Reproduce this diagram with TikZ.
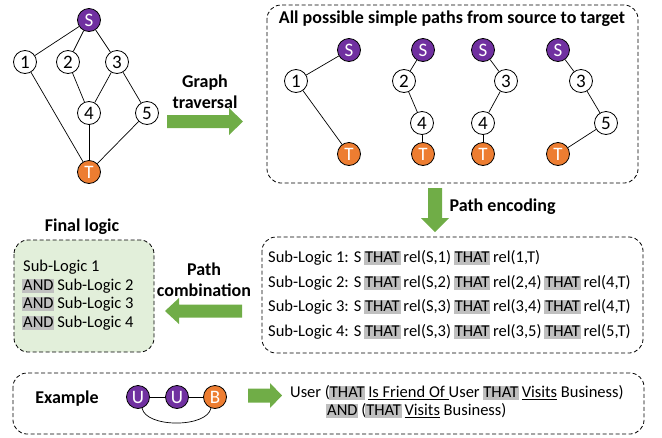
\documentclass[tikz,border=0pt]{standalone}
\usepackage{fontspec}
\setmainfont{Carlito}
\usetikzlibrary{positioning}
\definecolor{srcpurple}{HTML}{7030A0}
\definecolor{tgtorange}{HTML}{ED7D31}
\definecolor{arrowgreen}{HTML}{70AD47}
\definecolor{boxgreen}{HTML}{E2EFDA}
\definecolor{thatgray}{HTML}{BFBFBF}
% grey marker behind a keyword
\newcommand{\hlt}[1]{\setbox0=\hbox{#1}\rlap{\hspace*{-0.8pt}\textcolor{thatgray}{\rule[-2.5pt]{\dimexpr\wd0+1.6pt\relax}{\dimexpr\ht0+4pt\relax}}}\box0\relax}
\tikzset{
  vtx/.style={circle,draw,line width=0.8pt,minimum size=23pt,inner sep=0pt,fill=white,font=\fontsize{19}{19}\selectfont},
  src/.style={vtx,fill=srcpurple,text=white},
  tgt/.style={vtx,fill=tgtorange,text=white},
  dbox/.style={draw,dash pattern=on 4pt off 2.5pt,rounded corners=14pt,line width=0.8pt},
  title/.style={font=\bfseries\fontsize{18}{21}\selectfont},
  logic/.style={anchor=west,inner sep=0pt,font=\fontsize{16.5}{18}\selectfont},
  edge/.style={line width=0.7pt}
}
\begin{document}
\begin{tikzpicture}[x=1pt,y=-1pt]
    \useasboundingbox (0,0) rectangle (662,437);

    % Graph
    \node[src] (s) at (89,20) {S};
    \node[vtx] (n1) at (25,62) {1};
    \node[vtx] (n2) at (68,62) {2};
    \node[vtx] (n3) at (117,62) {3};
    \node[vtx] (n4) at (89,113) {4};
    \node[vtx] (n5) at (147,113) {5};
    \node[tgt] (t) at (89,172) {T};
    \foreach \a/\b in {s/n1,s/n2,s/n3,n1/t,n2/n4,n3/n4,n3/n5,n4/t,n5/t}
    \draw[edge] (\a) -- (\b);

    % Graph traversal
    \node[title,align=center] (trav) at (205,92) {Graph\\traversal};
    \fill[arrowgreen] (167,115) -- (229,115) -- (229,108) -- (243,121.5) -- (229,135) -- (229,128) -- (167,128) -- cycle;

    % Simple paths
    \draw[dbox] (267,5) rectangle (638,183);
    \node[title] (paths) at (452,19) {All possible simple paths from source to target};
    \node[src] (ps1) at (349,50) {S};
    \node[vtx] (pa1) at (296,81) {1};
    \node[tgt] (pt1) at (349,154) {T};
    \node[src] (ps2) at (423,50) {S};
    \node[vtx] (pa2) at (404,81) {2};
    \node[vtx] (pb2) at (422,123) {4};
    \node[tgt] (pt2) at (423,154) {T};
    \node[src] (ps3) at (483,50) {S};
    \node[vtx] (pa3) at (506,81) {3};
    \node[vtx] (pb3) at (483,123) {4};
    \node[tgt] (pt3) at (483,154) {T};
    \node[src] (ps4) at (558,50) {S};
    \node[vtx] (pa4) at (581,81) {3};
    \node[vtx] (pb4) at (606,123) {5};
    \node[tgt] (pt4) at (558,154) {T};
    \foreach \a/\b in {ps1/pa1,pa1/pt1,ps2/pa2,pa2/pb2,pb2/pt2,ps3/pa3,pa3/pb3,pb3/pt3,ps4/pa4,pa4/pb4,pb4/pt4}
    \draw[edge] (\a) -- (\b);

    % Path encoding
    \fill[arrowgreen] (428,188) -- (442,188) -- (442,218) -- (449,218) -- (435,232) -- (421,218) -- (428,218) -- cycle;
    \node[title,anchor=west] (enc) at (446,207) {Path encoding};

    % Sub-logics
    \draw[dbox] (262,237) rectangle (643,353);
    \node[logic] (sl1) at (268,258) {Sub-Logic 1: S \hlt{THAT} rel(S,1) \hlt{THAT} rel(1,T)};
    \node[logic] (sl2) at (268,283) {Sub-Logic 2: S \hlt{THAT} rel(S,2) \hlt{THAT} rel(2,4) \hlt{THAT} rel(4,T)};
    \node[logic] (sl3) at (268,307) {Sub-Logic 3: S \hlt{THAT} rel(S,3) \hlt{THAT} rel(3,4) \hlt{THAT} rel(4,T)};
    \node[logic] (sl4) at (268,332) {Sub-Logic 4: S \hlt{THAT} rel(S,3) \hlt{THAT} rel(3,5) \hlt{THAT} rel(5,T)};

    % Path combination
    \node[title,align=center] (comb) at (204,280) {Path\\combination};
    \fill[arrowgreen] (242,304.5) -- (179,304.5) -- (179,298) -- (165,311) -- (179,324) -- (179,317.5) -- (242,317.5) -- cycle;

    % Final logic
    \node[title] (final) at (82,227) {Final logic};
    \draw[dbox,fill=boxgreen] (14,240) rectangle (154,352);
    \node[logic] (fl1) at (23,267) {Sub-Logic 1};
    \node[logic] (fl2) at (23,286) {\hlt{AND} Sub-Logic 2};
    \node[logic] (fl3) at (23,304) {\hlt{AND} Sub-Logic 3};
    \node[logic] (fl4) at (23,323) {\hlt{AND} Sub-Logic 4};

    % Example
    \draw[dbox] (13,373) rectangle (644,434);
    \node[title] (ex) at (67,399) {Example};
    \node[src] (u1) at (138,397) {U};
    \node[src] (u2) at (177,397) {U};
    \node[tgt] (b) at (215,397) {B};
    \draw[edge] (u1) -- (u2);
    \draw[edge] (u2) -- (b);
    \draw[edge] (u1.290) .. controls (146,428) and (207,428) .. (b.250);
    \fill[arrowgreen] (248,388.5) -- (270,388.5) -- (270,383) -- (282,395.5) -- (270,408) -- (270,402.5) -- (248,402.5) -- cycle;
    \node[logic] (ex1) at (290,393) {User (\hlt{THAT} \underline{Is Friend Of\ }User \hlt{THAT} \underline{Visits} Business)};
    \node[logic] (ex2) at (327,411) {\hlt{AND} (\hlt{THAT} \underline{Visits} Business)};
\end{tikzpicture}
\end{document}
